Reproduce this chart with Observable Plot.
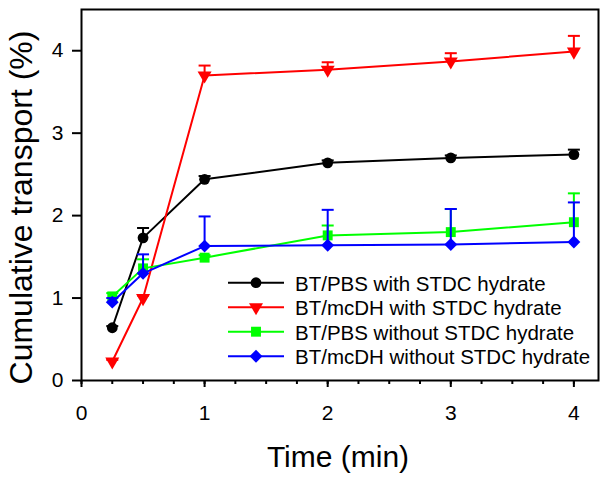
<!DOCTYPE html>
<html><head><meta charset="utf-8">
<script src="https://cdn.jsdelivr.net/npm/d3@7"></script>
<script src="https://cdn.jsdelivr.net/npm/@observablehq/plot@0.6"></script>
<style>body{margin:0;background:#fff;} #chart{width:606px;height:480px;}</style>
</head><body><div id="chart"></div>
<script>
// ---- data ----
const time = [0.25, 0.5, 1, 2, 3, 4];
const seriesNames = [
  "BT/PBS with STDC hydrate",
  "BT/mcDH with STDC hydrate",
  "BT/PBS without STDC hydrate",
  "BT/mcDH without STDC hydrate"
];
const seriesColors = ["#000000", "#ff0000", "#00ff00", "#0000ff"];
const seriesSymbols = ["circle", "triangle", "square", "diamond2"];
const seriesRotate = [0, 180, 0, 0];
const seriesRadius = [5.4, 5.2, 5.6, 5.8];

const pbsWith       = [0.64, 1.73, 2.44, 2.64, 2.70, 2.74];
const pbsWithErr    = [0.02, 0.12, 0.04, 0.03, 0.03, 0.06];
const mcdhWith      = [0.23, 1.00, 3.70, 3.77, 3.87, 3.99];
const mcdhWithErr   = [0.02, 0.03, 0.12, 0.09, 0.10, 0.19];
const pbsWithout    = [1.02, 1.36, 1.49, 1.76, 1.80, 1.92];
const pbsWithoutErr = [0.04, 0.11, 0.03, 0.12, 0.28, 0.35];
const mcdhWithout   = [0.95, 1.30, 1.63, 1.64, 1.65, 1.68];
const mcdhWithoutErr= [0.05, 0.23, 0.36, 0.43, 0.43, 0.48];

const xTicks = [0, 1, 2, 3, 4];
const xTickLabels = ["0", "1", "2", "3", "4"];
const xMinorTicks = [0, 0.25, 0.5, 0.75, 1, 1.25, 1.5, 1.75, 2, 2.25, 2.5, 2.75, 3, 3.25, 3.5, 3.75, 4];
const yTicks = [0, 1, 2, 3, 4];
const yTickLabels = ["0", "1", "2", "3", "4"];
const xTitle = "Time (min)";
const yTitle = "Cumulative transport (%)";

// ---- build ----
const values = [pbsWith, mcdhWith, pbsWithout, mcdhWithout];
const errors = [pbsWithErr, mcdhWithErr, pbsWithoutErr, mcdhWithoutErr];
const capSymbol = {draw(ctx) { ctx.moveTo(-6, 0); ctx.lineTo(6, 0); }};

const marks = [];
values.forEach((vals, s) => {
  const rows = vals.map((v, i) => ({t: time[i], v, top: v + errors[s][i]}));
  const c = seriesColors[s];
  marks.push(
    Plot.ruleX(rows, {x: "t", y1: "v", y2: "top", stroke: c, strokeWidth: 2}),
    Plot.dot(rows, {x: "t", y: "top", symbol: capSymbol, r: 5, stroke: c, strokeWidth: 2, fill: "none"}),
    Plot.line(rows, {x: "t", y: "v", stroke: c, strokeWidth: 2}),
    Plot.dot(rows, {x: "t", y: "v", symbol: seriesSymbols[s], r: seriesRadius[s], fill: c, stroke: "none", rotate: seriesRotate[s]})
  );
});

const ff = "'Liberation Sans', Arial, sans-serif";
const W = 606, H = 480;
const plot = Plot.plot({
  width: W, height: H,
  marginLeft: 81, marginRight: 8, marginTop: 9, marginBottom: 100,
  style: {fontFamily: ff, color: "black", background: "white"},
  x: {domain: [0, 4.2]},
  y: {domain: [0, 4.5]},
  marks: [
    Plot.axisY({ticks: yTicks, tickSize: 9, tickPadding: 9, fontSize: 21, strokeWidth: 2, label: null,
      tickFormat: (d) => yTickLabels[yTicks.indexOf(d)]}),
    Plot.axisX({ticks: xMinorTicks, tickSize: 4, strokeWidth: 2, tickFormat: () => "", label: null}),
    Plot.axisX({ticks: xTicks, tickSize: 7, tickPadding: 18, fontSize: 21, strokeWidth: 2, label: null,
      tickFormat: (d) => xTickLabels[xTicks.indexOf(d)]}),
    ...marks,
    Plot.frame({stroke: "black", strokeWidth: 2})
  ]
});
document.getElementById("chart").appendChild(plot);

// ---- axis titles and legend ----
const svg = d3.select(plot);
svg.append("text").attr("x", 338).attr("y", 467).attr("text-anchor", "middle")
  .attr("font-size", 30).attr("font-family", ff).attr("fill", "black").text(xTitle);
svg.append("text").attr("transform", "translate(31.5,207.5) rotate(-90)").attr("text-anchor", "middle")
  .attr("font-size", 32).attr("font-family", ff).attr("fill", "black").text(yTitle);

const leg = svg.append("g");
const legY0 = 282.7, legDy = 24.5;
const types = {circle: d3.symbolCircle, triangle: d3.symbolTriangle, square: d3.symbolSquare, diamond2: d3.symbolDiamond2};
seriesNames.forEach((name, s) => {
  const y = legY0 + s * legDy;
  const c = seriesColors[s];
  leg.append("line").attr("x1", 228).attr("x2", 284).attr("y1", y).attr("y2", y)
    .attr("stroke", c).attr("stroke-width", 2);
  const r = seriesRadius[s];
  leg.append("path").attr("d", d3.symbol(types[seriesSymbols[s]], Math.PI * r * r)())
    .attr("transform", `translate(256,${y}) rotate(${seriesRotate[s]})`).attr("fill", c);
  leg.append("text").attr("x", 295).attr("y", y + 8).attr("text-anchor", "start").attr("font-size", 20.5)
    .attr("font-family", ff).attr("fill", "black").text(name);
});
</script></body></html>
